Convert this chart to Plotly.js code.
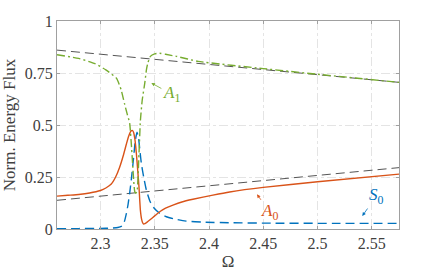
<!DOCTYPE html>
<html>
<head>
<meta charset="utf-8">
<script src="https://cdn.plot.ly/plotly-3.0.1.min.js"></script>
<style>
  html, body { margin: 0; padding: 0; background: #fff; }
  #chart { width: 441px; height: 273px; }
</style>
</head>
<body>
<div id="chart"></div>
<script>
// values
const refX = [2.26, 2.575];
const refUpper = [0.86, 0.705];
const refLower = [0.138, 0.295];

const s0X = [2.26, 2.28, 2.30, 2.31, 2.316, 2.32, 2.322, 2.324, 2.3255, 2.327, 2.3285, 2.3305, 2.332, 2.3337, 2.335, 2.3365, 2.3377, 2.34, 2.3423, 2.3455, 2.3484, 2.354, 2.3607, 2.37, 2.379, 2.395, 2.42, 2.46, 2.52, 2.575];
const s0Y = [0.002, 0.002, 0.003, 0.004, 0.007, 0.015, 0.035, 0.077, 0.12, 0.175, 0.24, 0.34, 0.42, 0.465, 0.44, 0.37, 0.315, 0.245, 0.187, 0.135, 0.107, 0.078, 0.059, 0.046, 0.038, 0.033, 0.030, 0.028, 0.027, 0.027];

const a0X = [2.26, 2.27, 2.28, 2.29, 2.30, 2.305, 2.31, 2.314, 2.3177, 2.321, 2.324, 2.326, 2.328, 2.3294, 2.3305, 2.3318, 2.3331, 2.3343, 2.3355, 2.3368, 2.338, 2.339, 2.3398, 2.341, 2.343, 2.3454, 2.35, 2.3546, 2.36, 2.3668, 2.375, 2.3852, 2.4036, 2.419, 2.45, 2.50, 2.575];
const a0Y = [0.158, 0.162, 0.166, 0.173, 0.185, 0.197, 0.216, 0.25, 0.297, 0.352, 0.41, 0.446, 0.47, 0.474, 0.465, 0.43, 0.363, 0.285, 0.203, 0.091, 0.045, 0.029, 0.024, 0.026, 0.033, 0.043, 0.063, 0.083, 0.10, 0.115, 0.13, 0.143, 0.163, 0.178, 0.20, 0.227, 0.264];

const a1X = [2.26, 2.28, 2.295, 2.305, 2.3147, 2.319, 2.3223, 2.3248, 2.3269, 2.3292, 2.3316, 2.3326, 2.3337, 2.3355, 2.3368, 2.3385, 2.3408, 2.3425, 2.3438, 2.346, 2.35, 2.3545, 2.36, 2.37, 2.39, 2.45, 2.50, 2.575];
const a1Y = [0.838, 0.82, 0.795, 0.765, 0.725, 0.67, 0.60, 0.55, 0.51, 0.35, 0.18, 0.172, 0.18, 0.36, 0.52, 0.62, 0.70, 0.77, 0.80, 0.83, 0.842, 0.845, 0.84, 0.83, 0.806, 0.771, 0.744, 0.705];

const xTicks = [2.3, 2.35, 2.4, 2.45, 2.5, 2.55];
const xTickText = ['2.3', '2.35', '2.4', '2.45', '2.5', '2.55'];
const yTicks = [0, 0.25, 0.5, 0.75, 1];
const yTickText = ['0', '0.25', '0.5', '0.75', '1'];

const blue = '#0072BD';
const red = '#D95319';
const green = '#77AC30';
const grey = '#555555';
const serif = '"Liberation Serif", "Times New Roman", serif';

let traces = [
  { x: refX, y: refUpper, mode: 'lines', line: { color: grey, width: 1, dash: '9px,5px' }, type: 'scatter' },
  { x: refX, y: refLower, mode: 'lines', line: { color: grey, width: 1, dash: '9px,5px' }, type: 'scatter' },
  { x: s0X, y: s0Y, mode: 'lines', line: { color: blue, width: 1.4, dash: '9px,5px', shape: 'spline', smoothing: 0.5 }, type: 'scatter' },
  { x: a0X, y: a0Y, mode: 'lines', line: { color: red, width: 1.4, shape: 'spline', smoothing: 0.5 }, type: 'scatter' },
  { x: a1X, y: a1Y, mode: 'lines', line: { color: green, width: 1.4, dash: '8px,3px,2px,3px', shape: 'spline', smoothing: 0.5 }, type: 'scatter' }
];

const axisCommon = {
  showline: true, linecolor: '#a0a0a0', linewidth: 1, mirror: 'ticks',
  ticks: 'inside', ticklen: 3, tickcolor: '#a0a0a0',
  showgrid: true, gridcolor: '#e4e4e4', griddash: 'dashdot', gridwidth: 1,
  zeroline: false, tickfont: { family: serif, size: 16, color: '#404040' }
};

let layout = {
  width: 441, height: 273,
  margin: { l: 57, r: 42, t: 21, b: 44 },
  paper_bgcolor: '#fff', plot_bgcolor: '#fff',
  showlegend: false,
  font: { family: serif, color: '#404040' },
  xaxis: Object.assign({}, axisCommon, {
    range: [2.26, 2.575], tickvals: xTicks, ticktext: xTickText,
    title: { text: 'Ω', font: { family: serif, size: 17, color: '#404040' }, standoff: 3 }
  }),
  yaxis: Object.assign({}, axisCommon, {
    range: [0, 1], tickvals: yTicks, ticktext: yTickText,
    title: { text: 'Norm. Energy Flux', font: { family: serif, size: 17, color: '#404040' }, standoff: 5 }
  }),
  annotations: [
    { x: 2.3469, y: 0.702, ax: 20, ay: 11, text: '<i>A</i><sub>1</sub>', showarrow: true, arrowhead: 2, arrowsize: 0.9, arrowwidth: 0.8, arrowcolor: green, font: { family: serif, size: 17, color: green } },
    { x: 2.4442, y: 0.1666, ax: 13, ay: 18, text: '<i>A</i><sub>0</sub>', showarrow: true, arrowhead: 2, arrowsize: 0.9, arrowwidth: 0.8, arrowcolor: red, font: { family: serif, size: 17, color: red } },
    { x: 2.5412, y: 0.0624, ax: 14, ay: -20, text: '<i>S</i><sub>0</sub>', showarrow: true, arrowhead: 2, arrowsize: 0.9, arrowwidth: 0.8, arrowcolor: blue, font: { family: serif, size: 17, color: blue } }
  ]
};

Plotly.newPlot('chart', traces, layout, { staticPlot: true, displayModeBar: false });
</script>
</body>
</html>
